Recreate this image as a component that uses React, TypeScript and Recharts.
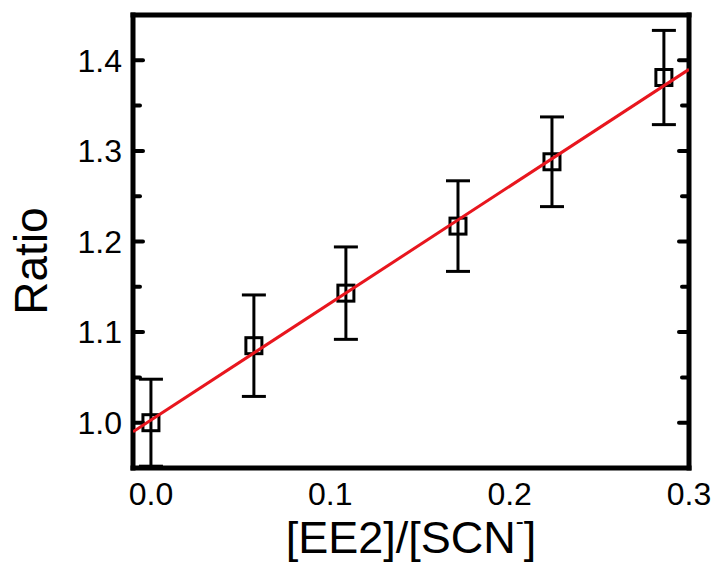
import React from 'react';
import { ScatterChart, Scatter, XAxis, YAxis, ErrorBar } from 'recharts';

const concentration = [0, 0.0574, 0.1087, 0.1712, 0.2236, 0.286];
const ratio = [1.0, 1.085, 1.143, 1.217, 1.288, 1.381];
const ratioErr = [0.048, 0.056, 0.051, 0.05, 0.0495, 0.052];

const fitX = [-0.01, 0.3];
const fitY = [0.99, 1.39];

const xMajor = [0, 0.1, 0.2, 0.3];
const xMinor = [0.05, 0.15, 0.25];
const yMajor = [1.0, 1.1, 1.2, 1.3, 1.4];
const yMinor = [1.05, 1.15, 1.25, 1.35];

const points = concentration.map((x, i) => ({ x, y: ratio[i], err: ratioErr[i] }));
const fitLine = fitX.map((x, i) => ({ x, y: fitY[i] }));

const FONT = '"Liberation Sans", Arial, Helvetica, sans-serif';
const xDomain = [-0.01, 0.3];
const yDomain = [0.95, 1.45];

const frame = { stroke: '#000', strokeWidth: 5, strokeLinecap: 'square' as const };
const tickStroke = { stroke: '#000', strokeWidth: 4, strokeLinecap: 'round' as const };
const noLabel = () => <g />;

const Square = (props: any) => {
  const { cx, cy } = props;
  return <rect x={cx - 8} y={cy - 8} width={16} height={16} fill="none" stroke="#000" strokeWidth={3} />;
};

const XLabel = (props: any) => {
  const { viewBox } = props;
  const cx = viewBox.x + viewBox.width / 2;
  return (
    <text x={cx} y={viewBox.y + 85} textAnchor="middle" fontSize={45} fontFamily={FONT} fill="#000">
      [EE2]/[SCN
      <tspan fontSize={24} dy={-24}>-</tspan>
      <tspan dy={24}>]</tspan>
    </text>
  );
};

const YLabel = () => (
  <text x={47} y={261} transform="rotate(-90, 47, 261)" textAnchor="middle" fontSize={46} fontFamily={FONT} fill="#000">
    Ratio
  </text>
);

const mirrorX = { type: 'number' as const, domain: xDomain, allowDataOverflow: true, mirror: true, height: 1, interval: 0, tick: noLabel, tickLine: tickStroke };
const mirrorY = { type: 'number' as const, domain: yDomain, allowDataOverflow: true, mirror: true, width: 1, interval: 0, tick: noLabel, tickLine: tickStroke };

export default function App() {
  return (
    <div style={{ position: 'absolute', left: 0, top: 0, background: '#fff' }}>
      <ScatterChart width={713} height={563} margin={{ top: 15, right: 24, bottom: 0, left: 0 }}>
        <XAxis
          xAxisId="main"
          dataKey="x"
          type="number"
          domain={xDomain}
          allowDataOverflow
          ticks={xMajor}
          interval={0}
          tickFormatter={(v: number) => v.toFixed(1)}
          height={95}
          tickLine={false}
          tickSize={0}
          tickMargin={14}
          axisLine={frame}
          tick={{ fontSize: 32, fill: '#000', fontFamily: FONT }}
          label={<XLabel />}
        />
        <XAxis xAxisId="bmaj" {...mirrorX} ticks={xMajor} tickSize={10} axisLine={false} />
        <XAxis xAxisId="bmin" {...mirrorX} ticks={xMinor} tickSize={6} axisLine={false} />
        <XAxis xAxisId="tmaj" orientation="top" {...mirrorX} ticks={xMajor} tickSize={10} axisLine={frame} />
        <XAxis xAxisId="tmin" orientation="top" {...mirrorX} ticks={xMinor} tickSize={6} axisLine={false} />

        <YAxis
          yAxisId="main"
          dataKey="y"
          type="number"
          domain={yDomain}
          allowDataOverflow
          ticks={yMajor}
          interval={0}
          tickFormatter={(v: number) => v.toFixed(1)}
          width={133}
          tickLine={false}
          tickSize={0}
          tickMargin={11}
          axisLine={frame}
          tick={{ fontSize: 32, fill: '#000', fontFamily: FONT }}
          label={<YLabel />}
        />
        <YAxis yAxisId="lmaj" {...mirrorY} ticks={yMajor} tickSize={10} axisLine={false} />
        <YAxis yAxisId="lmin" {...mirrorY} ticks={yMinor} tickSize={6} axisLine={false} />
        <YAxis yAxisId="rmaj" orientation="right" {...mirrorY} ticks={yMajor} tickSize={10} axisLine={frame} />
        <YAxis yAxisId="rmin" orientation="right" {...mirrorY} ticks={yMinor} tickSize={6} axisLine={false} />

        <Scatter xAxisId="main" yAxisId="main" data={points} shape={<Square />} isAnimationActive={false}>
          <ErrorBar dataKey="err" direction="y" width={12} stroke="#000" strokeWidth={3} isAnimationActive={false} />
        </Scatter>
        <Scatter
          xAxisId="main"
          yAxisId="main"
          data={fitLine}
          line={{ stroke: '#e8161e', strokeWidth: 3 }}
          shape={() => <g />}
          isAnimationActive={false}
        />
      </ScatterChart>
    </div>
  );
}
